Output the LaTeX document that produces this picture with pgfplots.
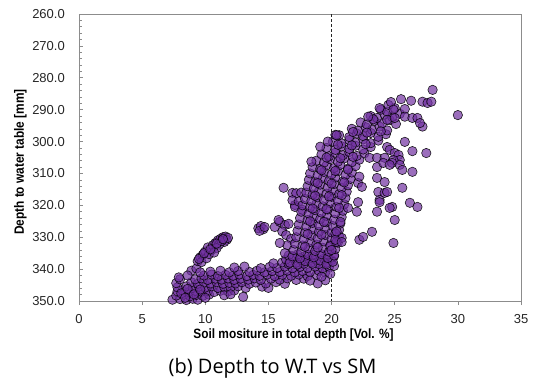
\documentclass[border=0pt]{standalone}
\usepackage{fontspec}
\setmainfont{Liberation Sans}
\newfontfamily\labfont[FakeStretch=0.88]{Liberation Sans}
\newfontfamily\capfont{Open Sans}
\usepackage{pgfplots}
\pgfplotsset{compat=1.18}
\definecolor{violetc}{RGB}{112,48,160}
\begin{document}
\begin{tikzpicture}
\begin{axis}[
  at={(0,0)}, anchor=south west,
  scale only axis, width=442pt, height=287pt,
  xmin=0, xmax=35, ymin=260, ymax=350,
  y dir=reverse,
  xtick={0,5,...,35}, ytick={260,270,...,350},
  minor y tick num=4,
  tick pos=left, tick align=inside,
  major tick length=4pt, minor tick length=3pt,
  axis line style={draw=black!45, line width=0.6pt},
  tick style={draw=black!45, line width=0.6pt},
  xtick style={yshift=-4pt},
  /pgf/number format/assume math mode=true,
  ticklabel style={font=\fontsize{13}{13}\selectfont, text=black!85},
  yticklabel style={/pgf/number format/.cd, fixed, fixed zerofill, precision=1, /tikz/.cd, anchor=east, inner sep=0pt, xshift=-14pt},
  xticklabel style={anchor=base, inner sep=0pt, yshift=-22pt},
  clip=false,
]
\addplot[black!85, line width=0.7pt, dash pattern=on 3pt off 2pt] coordinates {(20,260) (20,350)};
\addplot[only marks, mark=*, mark size=4.7pt,
  mark options={fill=violetc, fill opacity=0.7, draw=black, draw opacity=0.85, line width=0.6pt}]
coordinates {
(7.4,349.6)(8.0,349.4)(8.5,349.7)(9.0,349.3)(9.4,349.6)(13.0,348.7)
(7.7,348.3)(8.3,348.0)(8.8,348.5)(9.3,348.1)(9.8,348.4)(10.3,348.0)
(7.8,347.0)(8.2,346.7)(8.7,347.2)(9.2,346.8)(9.7,347.1)(10.2,346.9)(10.7,347.2)(11.2,346.8)(11.8,347.0)(12.3,346.7)
(7.8,345.7)(8.5,345.4)(9.0,345.9)(9.5,345.5)(10.0,345.8)(10.5,345.4)(11.0,345.9)(11.5,345.6)(12.0,345.8)(12.6,345.4)(13.2,345.9)(14.5,345.5)(15.0,345.9)
(7.7,344.4)(8.9,344.1)(9.4,344.6)(9.9,344.2)(10.4,344.5)(10.9,344.1)(11.4,344.6)(11.9,344.3)(12.4,344.5)(12.9,344.1)(13.5,344.6)(14.0,344.2)(14.8,344.5)(15.6,344.1)(16.3,344.6)
(9.2,343.2)(9.7,342.9)(10.2,343.4)(10.8,343.0)(11.3,343.3)(11.8,342.9)(12.3,343.4)(12.8,343.0)(13.4,343.3)(13.9,342.9)(14.4,343.4)(15.2,343.0)(15.9,343.3)(16.5,342.9)(17.2,343.4)(17.8,343.0)
(9.9,342.0)(10.5,341.7)(11.0,342.2)(11.6,341.8)(12.2,342.1)(12.7,341.7)(13.3,342.2)(13.8,341.8)(14.3,342.1)(14.9,341.7)(15.5,342.2)(16.1,341.8)(16.8,342.1)(17.4,341.7)(18.1,342.2)(18.8,341.8)
(10.4,340.8)(11.2,340.5)(11.9,341.0)(12.6,340.6)(13.5,340.9)(14.1,340.5)(14.7,341.0)(15.3,340.6)(15.9,340.9)(16.5,340.5)(17.1,341.0)(17.7,340.6)(18.3,340.9)(19.0,340.5)(19.5,341.0)
(12.3,339.5)(13.1,339.2)(14.4,339.7)(15.1,339.3)(15.7,339.6)(16.3,339.2)(16.9,339.7)(17.5,339.3)(18.1,339.6)(18.7,339.2)(19.3,339.7)(19.8,339.3)
(15.4,338.2)(16.1,337.9)(16.6,338.4)(17.2,338.0)(17.8,338.3)(18.4,337.9)(19.0,338.4)(19.6,338.0)
(16.4,337.0)(17.0,336.7)(17.6,337.2)(18.2,336.8)(18.8,337.1)(19.4,336.7)(20.0,337.2)
(16.6,335.7)(17.3,335.4)(17.9,335.9)(18.5,335.5)(19.1,335.8)(19.7,335.4)(20.2,335.9)
(8.9,340.5)(9.3,339.8)(9.6,341.0)(19.9,341.5)(20.2,339.0)(19.5,343.5)(18.9,344.5)(18.3,343.6)(19.2,342.4)
(8.1,347.6)(8.6,346.2)(9.1,347.9)(9.6,346.4)(8.4,349.0)(10.0,349.0)(11.5,348.2)(12.0,347.9)(8.0,343.2)(7.9,342.6)(8.6,342.0)
(9.4,337.5)(9.6,336.3)(9.8,335.5)(10.0,334.5)(9.7,337.8)(10.1,336.6)(10.3,335.3)(10.5,334.0)(10.2,333.2)(10.6,332.5)(10.8,331.8)(11.0,331.0)(11.2,330.5)(11.4,330.0)(11.6,329.8)(11.7,330.8)(11.5,331.5)(11.1,332.3)(10.9,333.4)(10.7,334.8)(11.3,331.2)(11.8,330.2)(9.5,336.8)(9.9,335.0)(10.4,333.8)(10.9,332.0)(11.4,330.6)
(14.2,327.2)(14.4,326.5)(14.6,327.5)(14.3,328.0)(14.7,326.8)(15.5,326.8)(15.9,325.2)(16.3,326.2)(16.6,325.8)(16.1,328.2)(16.4,329.3)(15.8,324.6)
(16.2,314.5)(16.9,316.1)(17.2,316.2)(17.6,316.0)(17.1,319.9)(17.7,321.4)(17.1,320.5)(16.8,330.5)(16.5,332.5)(15.9,331.8)(16.3,335.0)(16.9,318.4)(17.4,318.8)
(16.7,338)(17.3,338.6)(17.9,337.5)(18.5,338.3)(19.1,337.3)(19.6,338.5)(20.1,337.7)
(16.9,336)(17.5,336.6)(18.1,335.5)(18.6,336.3)(19.2,335.3)(19.7,336.5)(20.2,335.7)
(17.0,334)(17.6,334.6)(18.2,333.5)(18.7,334.3)(19.3,333.3)(19.8,334.5)(20.3,333.7)
(17.1,332)(17.7,332.6)(18.3,331.5)(18.8,332.3)(19.4,331.3)(19.9,332.5)(20.5,331.7)
(17.2,330)(17.8,330.6)(18.4,329.5)(18.9,330.3)(19.5,329.3)(20.0,330.5)(20.6,329.7)
(17.3,328)(17.9,328.6)(18.5,327.5)(19.0,328.3)(19.5,327.3)(20.0,328.5)(20.6,327.7)
(17.4,326)(18.0,326.6)(18.5,325.5)(19.0,326.3)(19.6,325.3)(20.1,326.5)(20.7,325.7)
(17.5,324)(18.1,324.6)(18.6,323.5)(19.1,324.3)(19.6,323.3)(20.2,324.5)(20.8,323.7)
(17.6,322)(18.2,322.6)(18.7,321.5)(19.2,322.3)(19.7,321.3)(20.3,322.5)(20.9,321.7)
(17.7,320)(18.3,320.6)(18.8,319.5)(19.3,320.3)(19.9,319.3)(20.4,320.5)(21.0,319.7)
(17.9,318)(18.4,318.6)(18.9,317.5)(19.4,318.3)(20.0,317.3)(20.5,318.5)(21.1,317.7)
(18.0,316)(18.5,316.6)(19.0,315.5)(19.6,316.3)(20.1,315.3)(20.6,316.5)(21.2,315.7)
(18.1,314)(18.6,314.6)(19.1,313.5)(19.7,314.3)(20.2,313.3)(20.8,314.5)(21.3,313.7)
(18.2,312)(18.7,312.6)(19.3,311.5)(19.8,312.3)(20.3,311.3)(20.9,312.5)(21.5,311.7)
(18.3,310)(18.9,310.6)(19.4,309.5)(20.0,310.3)(20.5,309.3)(21.1,310.5)(21.6,309.7)
(18.5,308)(19.1,308.6)(19.6,307.5)(20.2,308.3)(20.7,307.3)(21.3,308.5)(21.9,307.7)
(18.8,306)(19.4,306.6)(19.9,305.5)(20.5,306.3)(21.0,305.3)(21.6,306.5)(22.2,305.7)
(19.2,304)(19.8,304.6)(20.3,303.5)(20.9,304.3)(21.4,303.3)(22.0,304.5)(22.6,303.7)
(19.6,302)(20.3,302.6)(20.8,301.5)(21.4,302.3)(21.9,301.3)(22.5,302.5)(23.1,301.7)
(20.1,300)(20.8,300.6)(21.4,299.5)(21.9,300.3)(22.5,299.3)(23.1,300.5)(23.7,299.7)
(20.6,298)(21.4,298.6)(22.0,297.5)(22.5,298.3)(23.1,297.3)(23.7,298.5)(24.3,297.7)
(21.6,296)(22.1,296.6)(22.7,295.5)(23.2,296.3)(23.8,295.3)(24.4,296.5)
(22.3,294)(22.8,294.6)(23.4,293.5)(24.0,294.3)(24.6,293.3)(25.1,294.5)
(23.1,292)(23.6,292.6)(24.2,291.5)(24.8,292.3)(25.4,291.3)
(23.9,290)(24.4,290.6)(25.0,289.5)(24.5,288.5)
(17.9,333)(18.9,333.2)(19.9,332.8)(18.1,329)(19.2,329.2)(20.3,328.8)(18.3,325)(19.4,325.2)(18.5,321)(19.6,321.2)(20.6,320.8)
(18.7,317)(19.8,317.2)(20.8,316.8)(18.9,313)(20.0,313.2)(21.0,312.8)(19.2,309)(20.3,309.2)(21.3,308.8)(19.6,305)(20.7,305.2)(21.7,304.8)
(20.5,301)(21.6,301.2)(22.7,300.8)(21.7,297)(22.8,297.2)(23.9,296.8)(23.3,293)(24.4,293.2)
(18.4,306.3)(19.1,301.6)(19.7,300.0)(20.3,297.9)(20.4,298.0)
(24.7,287.6)(25.5,286.7)(26.3,287.2)(27.2,287.5)(27.6,287.9)(27.9,287.5)(28.0,283.8)(30.0,291.7)
(24.9,290.0)(25.8,289.8)(25.0,292.6)(25.8,292.2)(26.4,292.6)(26.8,292.6)(27.2,295.3)(27.0,294.2)(23.8,289.5)(22.9,292.2)
(24.4,301.7)(24.6,302.6)(25.0,303.6)(25.3,304.2)(25.4,305.8)(24.9,305.8)(24.8,306.7)(25.4,307.3)(25.6,308.9)
(23.0,305.1)(23.6,305.1)(24.2,305.1)(25.8,300.1)(26.4,303.0)(27.5,303.6)(26.4,309.5)
(23.6,311.4)(24.2,312.7)(25.6,314.5)(23.7,315.8)(24.2,316.1)(23.8,318.3)(26.2,319.2)(26.8,320.5)(24.8,320.5)
(24.4,315.8)(24.6,320.8)(23.8,319.0)(23.6,322.0)(25.0,324.6)(22.2,330.8)(22.5,329.9)(23.2,328.3)(24.9,331.8)
(22.1,319.0)(22.0,322.0)(20.7,325.2)(20.8,330.2)(20.4,331.5)(22.1,313.0)(22.4,314.2)(22.2,311.0)
(23.6,308.0)(24.1,306.7)(24.6,307.3)(20.0,334.0)(20.3,330.8)(20.8,331.5)(20.4,328.2)(21.3,320.8)
};
\end{axis}
\node[anchor=base, font=\labfont\bfseries\fontsize{13.5}{13.5}\selectfont] at (214.5pt,-38pt) {Soil mositure in total depth [Vol. \%]};
\node[anchor=base, rotate=90, font=\labfont\bfseries\fontsize{13.5}{13.5}\selectfont] at (-55pt,139pt) {Depth to water table [mm]};
\node[anchor=base, font=\capfont\fontsize{20}{20}\selectfont] at (193.5pt,-72pt) {(b) Depth to W.T vs SM};
\pgfresetboundingbox
\path[use as bounding box] (-79pt,-78pt) rectangle (455pt,301pt);
\end{tikzpicture}
\end{document}
